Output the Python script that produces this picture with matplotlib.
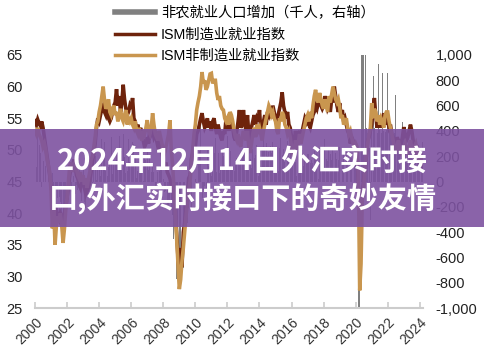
import numpy as np
import matplotlib
matplotlib.use('Agg')
import matplotlib.pyplot as plt
from matplotlib.lines import Line2D
from matplotlib.patches import Rectangle
from matplotlib.ticker import FuncFormatter

plt.rcParams['font.family'] = ['Liberation Sans', 'Noto Sans CJK SC', 'DejaVu Sans']

# monthly data, Jan 2000 - Nov 2024
start_year = 2000

# 非农就业人口增加 (千人)
nfp = [
    248, 117, 472, 286, 223, -46, 166, 0, 125, -7, 159, 106,
    -12, 71, -61, -281, -44, -128, -125, -160, -244, -325, -292, -178,
    -134, -147, -25, -84, -7, 44, -98, -27, -68, 121, 5, -156,
    89, -161, -213, -48, -5, -1, 22, -41, 103, 198, 12, 118,
    160, 41, 334, 239, 311, 80, 44, 118, 162, 351, 63, 132,
    136, 240, 142, 362, 172, 245, 373, 194, 65, 82, 334, 158,
    281, 313, 293, 183, 24, 83, 205, 181, 158, 4, 208, 173,
    238, 88, 188, 77, 141, 75, -38, -28, 79, 82, 115, 95,
    17, -85, -78, -210, -185, -165, -209, -266, -452, -473, -769, -695,
    -791, -703, -823, -687, -349, -471, -329, -213, -220, -204, -2, -275,
    23, -69, 164, 243, 522, -133, -70, -34, -52, 262, 119, 87,
    43, 189, 225, 346, 77, 225, 69, 110, 243, 203, 132, 212,
    361, 225, 244, 91, 112, 81, 154, 185, 205, 132, 160, 244,
    206, 266, 129, 206, 222, 180, 109, 258, 188, 208, 292, 44,
    168, 164, 273, 329, 246, 304, 202, 230, 280, 227, 312, 255,
    234, 238, 86, 262, 344, 206, 254, 157, 100, 321, 252, 239,
    126, 237, 225, 153, 43, 297, 291, 176, 249, 124, 164, 155,
    216, 219, 149, 174, 145, 239, 187, 221, 18, 264, 219, 166,
    149, 338, 180, 159, 254, 218, 170, 268, 106, 225, 176, 173,
    269, 1, 147, 210, 62, 243, 159, 207, 208, 185, 261, 184,
    315, 289, -1683, -20679, 2833, 4846, 1726, 1583, 420, 380, 263, -306,
    400, 830, 420, 269, 380, 930, 410, 383, 860, 400, 390, 410,
    860, 400, 398, 336, 364, 384, 680, 352, 350, 324, 290, 470,
    382, 287, 146, 278, 281, 240, 184, 210, 246, 165, 182, 290,
    256, 236, 310, 108, 216, 118, 144, 78, 255, 36, 227,
]

# ISM制造业就业指数
ism_mfg = [
    54.6, 54.0, 54.8, 54.2, 53.8, 54.5, 53.5, 52.0, 50.5, 49.0, 47.5, 46.0,
    44.5, 43.0, 41.5, 40.0, 40.5, 39.5, 39.0, 40.0, 39.5, 39.0, 40.0, 41.0,
    42.5, 44.0, 46.0, 47.5, 47.0, 48.5, 47.5, 46.0, 45.5, 44.5, 44.0, 45.0,
    45.5, 44.0, 43.0, 43.5, 44.0, 45.0, 46.5, 48.0, 49.5, 51.0, 53.5, 55.0,
    54.5, 55.5, 56.5, 57.0, 56.0, 55.5, 56.5, 55.0, 54.5, 55.0, 56.0, 57.0,
    57.5, 59.6, 57.0, 58.5, 56.0, 57.5, 60.3, 58.0, 56.5, 55.5, 56.0, 57.0,
    56.5, 58.2, 55.0, 54.5, 53.0, 54.0, 52.5, 53.5, 52.0, 51.5, 50.5, 51.0,
    52.0, 51.0, 53.5, 52.5, 53.0, 52.0, 52.5, 51.5, 50.5, 51.0, 50.0, 49.5,
    48.5, 47.0, 48.0, 46.5, 46.0, 45.5, 44.5, 44.0, 43.0, 40.5, 37.0, 33.0,
    30.2, 34.5, 31.5, 37.0, 38.5, 40.5, 43.0, 45.5, 46.0, 48.5, 49.5, 51.0,
    50.5, 52.5, 53.0, 54.0, 55.0, 55.8, 54.5, 53.5, 54.0, 55.0, 53.5, 54.5,
    53.0, 54.5, 55.0, 53.5, 52.5, 54.0, 53.0, 52.0, 51.5, 53.0, 52.5, 55.0,
    54.5, 53.0, 55.5, 54.0, 53.5, 52.0, 51.5, 53.0, 54.5, 56.3, 53.5, 54.0,
    56.3, 54.0, 53.0, 55.5, 52.5, 51.5, 53.6, 54.5, 55.5, 54.0, 55.0, 54.5,
    56.3, 53.0, 52.5, 54.5, 55.5, 54.0, 56.0, 55.5, 56.5, 55.0, 57.0, 56.0,
    55.0, 54.5, 55.5, 56.5, 57.5, 59.1, 57.0, 56.0, 55.0, 56.0, 54.0, 53.5,
    52.0, 50.5, 51.5, 53.0, 51.0, 52.5, 53.0, 51.5, 53.0, 54.0, 55.0, 54.5,
    55.5, 54.0, 53.5, 54.5, 55.5, 56.0, 57.0, 56.5, 57.5, 58.9, 57.0, 56.5,
    57.0, 58.5, 57.5, 56.5, 57.0, 56.0, 58.0, 57.5, 60.0, 58.5, 57.0, 56.0,
    57.4, 55.5, 56.3, 54.5, 55.0, 54.0, 53.0, 52.5, 51.0, 52.0, 51.5, 50.5,
    50.0, 49.5, 44.0, 39.5, 40.5, 43.0, 45.5, 47.0, 49.0, 51.5, 52.0, 53.0,
    54.0, 56.5, 58.2, 55.5, 53.5, 54.5, 55.0, 53.5, 54.5, 55.8, 54.0, 55.0,
    54.5, 53.5, 54.0, 52.5, 52.0, 51.0, 50.5, 52.0, 51.5, 50.5, 51.0, 52.0,
    53.6, 52.5, 51.5, 52.0, 53.0, 54.0, 53.0, 51.5, 50.5, 49.5, 49.0, 48.5,
    48.0, 47.5, 48.5, 49.0, 48.0, 47.0, 46.5, 47.5, 46.0, 47.0, 48.0,
]

# ISM非制造业就业指数
ism_nonmfg = [
    53.0, 52.5, 53.5, 52.5, 52.0, 51.5, 50.5, 51.0, 50.0, 48.5, 47.5, 46.5,
    43.5, 37.6, 40.5, 35.0, 38.0, 39.5, 38.5, 40.0, 38.0, 35.3, 37.5, 40.5,
    42.5, 45.0, 47.5, 48.0, 46.5, 47.5, 48.0, 47.0, 46.0, 45.5, 46.5, 45.0,
    46.0, 44.5, 45.5, 44.0, 45.5, 46.5, 48.5, 49.0, 50.5, 52.0, 54.0, 54.5,
    56.0, 57.0, 58.5, 60.0, 57.9, 56.5, 57.0, 58.0, 56.0, 55.5, 56.5, 57.0,
    55.5, 56.0, 54.5, 55.5, 56.5, 55.0, 54.5, 55.5, 56.3, 54.0, 55.0, 54.5,
    55.0, 54.0, 53.5, 54.5, 53.0, 52.5, 53.5, 52.0, 51.5, 53.0, 52.5, 53.5,
    54.7, 53.0, 52.5, 53.5, 55.8, 54.0, 52.5, 52.0, 51.5, 53.0, 52.0, 51.0,
    50.0, 49.5, 50.5, 51.5, 52.5, 54.7, 50.0, 47.5, 44.0, 40.0, 36.0, 32.0,
    28.0, 29.5, 32.5, 34.5, 37.0, 39.5, 41.5, 43.5, 45.0, 47.5, 50.0, 52.5,
    54.0, 56.3, 57.5, 58.5, 60.0, 62.3, 60.5, 61.0, 59.5, 60.0, 61.0, 62.0,
    62.1, 60.5, 61.0, 61.0, 59.0, 57.9, 58.5, 57.0, 56.5, 56.3, 55.0, 54.5,
    55.0, 54.0, 56.0, 55.5, 54.5, 53.0, 52.0, 51.5, 52.5, 51.0, 50.5, 52.0,
    53.0, 52.0, 51.5, 53.0, 50.5, 49.5, 51.0, 52.5, 53.5, 52.0, 54.0, 53.0,
    53.5, 52.5, 51.5, 53.0, 54.0, 55.0, 56.0, 57.0, 56.5, 55.5, 56.0, 55.0,
    54.5, 53.0, 52.5, 55.0, 54.5, 56.0, 55.5, 54.0, 53.5, 52.5, 53.0, 52.0,
    50.5, 49.0, 50.0, 51.5, 50.0, 51.0, 52.5, 51.0, 52.0, 53.0, 54.0, 55.0,
    55.5, 54.5, 56.0, 55.0, 57.0, 58.5, 59.5, 58.0, 57.5, 59.0, 58.0, 57.0,
    56.5, 58.0, 57.0, 56.0, 58.5, 57.5, 58.7, 60.0, 59.0, 58.0, 57.5, 58.0,
    56.8, 55.0, 55.5, 54.0, 54.5, 55.0, 53.5, 52.5, 53.0, 52.0, 51.0, 50.5,
    51.0, 50.5, 46.0, 27.8, 32.0, 42.5, 44.0, 47.0, 49.5, 51.0, 52.5, 53.5,
    57.4, 55.0, 56.5, 56.0, 54.5, 55.5, 54.0, 55.0, 54.5, 53.5, 55.5, 56.0,
    56.0, 54.5, 53.5, 52.5, 51.5, 50.5, 49.5, 50.5, 51.5, 50.0, 49.5, 50.0,
    50.5, 51.0, 50.0, 49.5, 50.5, 51.5, 50.0, 49.5, 50.5, 51.0, 50.0, 49.0,
    49.5, 48.5, 49.0, 47.5, 48.0, 47.0, 48.5, 49.0, 48.0, 49.5, 50.0,
]

x_years = list(range(2000, 2025, 2))
legend_labels = ['非农就业人口增加（千人，右轴）', 'ISM制造业就业指数', 'ISM非制造业就业指数']
banner_lines = ['2024年12月14日外汇实时接', '口,外汇实时接口下的奇妙友情']

dates = start_year + np.arange(len(nfp)) / 12.0

fig = plt.figure(figsize=(4.85, 3.57), dpi=100)
ax = fig.add_axes([0.0722, 0.137, 0.8, 0.709])
ax2 = ax.twinx()

# bars on the right axis, behind the lines
ax2.bar(dates, nfp, width=0.06, color='#808080', linewidth=0)
ax2.set_ylim(-1000, 1000)
ax2.set_yticks(np.arange(-1000, 1001, 200))
ax2.yaxis.set_major_formatter(FuncFormatter(lambda v, p: f'{int(v):,}'))

ax.set_zorder(ax2.get_zorder() + 1)
ax.patch.set_visible(False)

c_mfg = '#6e230c'
c_non = '#c9964f'
ax.plot(dates[:len(ism_mfg)], ism_mfg, color=c_mfg, lw=2.6, solid_joinstyle='miter')
ax.plot(dates[:len(ism_nonmfg)], ism_nonmfg, color=c_non, lw=2.6, solid_joinstyle='miter')
ax.set_ylim(25, 65)
ax.set_yticks(np.arange(25, 66, 5))
ax.set_xlim(2000, 2024.2)
ax.set_xticks(x_years)
ax.set_xticklabels([str(y) for y in x_years], rotation=45, ha='right',
                   rotation_mode='anchor')

for a in (ax, ax2):
    for s in a.spines.values():
        s.set_visible(False)
ax.spines['bottom'].set_visible(True)
ax.spines['bottom'].set_color('#cccccc')
ax.spines['bottom'].set_linewidth(1.5)
ax.tick_params(axis='x', direction='in', length=4, width=1.2, color='#cccccc',
               labelsize=10, labelcolor='#333333', pad=5)
ax.tick_params(axis='y', length=0, labelsize=10.5, labelcolor='#222222', pad=9)
ax2.tick_params(axis='y', length=0, labelsize=10.5, labelcolor='#222222', pad=9)

handles = [Line2D([], [], color='#808080', lw=4),
           Line2D([], [], color=c_mfg, lw=2.5),
           Line2D([], [], color=c_non, lw=2.5)]
fig.legend(handles, legend_labels, loc='upper left', bbox_to_anchor=(0.237, 0.982),
           frameon=False, fontsize=10.3, handlelength=2.8, handletextpad=0.4,
           labelspacing=0.5, borderpad=0, borderaxespad=0)

# purple banner across the middle
fig.add_artist(Rectangle((0, 0.364), 1, 0.275, transform=fig.transFigure,
                         facecolor='#7d52a0', alpha=0.9, edgecolor='none', zorder=10))
fig.text(0.5, 0.549, banner_lines[0], ha='center', va='center', color='white',
         fontsize=21, fontweight='heavy', family=['Noto Sans CJK SC'], zorder=11)
fig.text(0.5, 0.445, banner_lines[1], ha='center', va='center', color='white',
         fontsize=21, fontweight='heavy', family=['Noto Sans CJK SC'], zorder=11)

fig.savefig('out.png', dpi=100, facecolor='white')
